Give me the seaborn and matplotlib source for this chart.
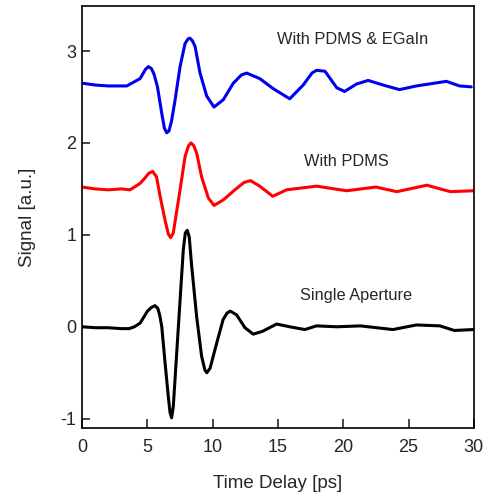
import numpy as np
import pandas as pd
import seaborn as sns
import matplotlib
matplotlib.use("Agg")
import matplotlib.pyplot as plt

# single aperture (black)
t_single = [0, 1, 2, 3, 3.6, 4.0, 4.44, 5.0, 5.3, 5.58, 5.8, 5.95, 6.1, 6.35, 6.6, 6.73,
            6.85, 6.98, 7.24, 7.5, 7.75, 7.9, 8.05, 8.2, 8.39, 8.77, 9.15, 9.4, 9.55, 9.8,
            10.3, 10.8, 11.1, 11.35, 11.83, 12.47, 13.1, 13.8, 14.9, 15.9, 17.06, 17.95,
            19.5, 21.3, 23.8, 25.6, 27.4, 28.5, 29.95]
s_single = [0, -0.01, -0.01, -0.02, -0.02, 0.0, 0.04, 0.17, 0.21, 0.23, 0.2, 0.12, 0.0,
            -0.39, -0.76, -0.93, -0.99, -0.87, -0.29, 0.29, 0.84, 1.02, 1.05, 0.98, 0.66,
            0.11, -0.32, -0.47, -0.50, -0.45, -0.18, 0.08, 0.15, 0.17, 0.13, -0.01, -0.08,
            -0.05, 0.03, 0.0, -0.03, 0.01, 0.0, 0.01, -0.03, 0.02, 0.01, -0.04, -0.03]

# with PDMS (red)
t_pdms = [0, 1, 2, 3, 3.67, 4.44, 4.82, 5.1, 5.4, 5.7, 5.97, 6.35, 6.6, 6.78, 6.98, 7.5,
          7.88, 8.15, 8.34, 8.55, 8.77, 9.15, 9.67, 10.1, 10.81, 11.7, 12.4, 12.9, 13.6,
          14.6, 15.66, 17.95, 20.25, 22.5, 24.1, 26.4, 28.2, 30]
s_pdms = [1.52, 1.5, 1.49, 1.5, 1.49, 1.56, 1.62, 1.67, 1.69, 1.63, 1.42, 1.16, 1.01, 0.97,
          1.02, 1.49, 1.85, 1.97, 2.0, 1.97, 1.89, 1.63, 1.40, 1.32, 1.38, 1.49, 1.57, 1.59,
          1.53, 1.42, 1.49, 1.53, 1.48, 1.52, 1.47, 1.54, 1.47, 1.48]

# with PDMS & EGaIn (blue)
t_egain = [0, 1, 2, 3.42, 4.44, 4.85, 5.07, 5.3, 5.5, 5.77, 6.1, 6.3, 6.48, 6.65, 6.85,
           7.11, 7.5, 7.88, 8.1, 8.26, 8.45, 8.65, 9.03, 9.54, 10.1, 10.81, 11.58, 12.2,
           12.6, 13.6, 14.64, 15.9, 16.93, 17.6, 17.95, 18.6, 19.5, 20.1, 21.0, 21.9, 23.05,
           24.3, 25.6, 27.9, 28.9, 29.8]
s_egain = [2.65, 2.63, 2.62, 2.62, 2.70, 2.80, 2.83, 2.81, 2.75, 2.61, 2.32, 2.16, 2.11,
           2.13, 2.24, 2.46, 2.83, 3.08, 3.13, 3.14, 3.11, 3.05, 2.76, 2.51, 2.39, 2.47,
           2.65, 2.74, 2.76, 2.70, 2.59, 2.48, 2.63, 2.76, 2.79, 2.78, 2.60, 2.56, 2.64,
           2.68, 2.63, 2.58, 2.62, 2.67, 2.62, 2.61]

labels = ["With PDMS & EGaIn", "With PDMS", "Single Aperture"]
label_pos = [(20.7, 3.13), (20.25, 1.80), (21.0, 0.34)]

sns.set_style("ticks")
plt.rcParams["font.family"] = ["Liberation Sans", "DejaVu Sans"]
plt.rcParams["axes.unicode_minus"] = False

fig = plt.figure(figsize=(4.86, 4.97), dpi=100)
ax = fig.add_axes([0.169, 0.139, 0.806, 0.849])

sns.lineplot(x=t_single, y=s_single, color="black", lw=2.2, ax=ax)
sns.lineplot(x=t_pdms, y=s_pdms, color="#ff0000", lw=2.2, ax=ax)
sns.lineplot(x=t_egain, y=s_egain, color="#0000ee", lw=2.2, ax=ax)
for line in ax.lines:
    line.set_solid_joinstyle("round")
    line.set_solid_capstyle("round")

for txt, (x, y) in zip(labels, label_pos):
    ax.text(x, y, txt, ha="center", va="center", fontsize=11.8)

ax.set_xlim(0, 30)
ax.set_ylim(-1.1, 3.49)
ax.set_xticks([0, 5, 10, 15, 20, 25, 30])
ax.set_yticks([-1, 0, 1, 2, 3])
ax.tick_params(axis="x", direction="in", length=6.5, width=1.2, labelsize=13, pad=8)
ax.tick_params(axis="y", direction="in", length=6, width=1.2, labelsize=13, pad=4)
for sp in ax.spines.values():
    sp.set_linewidth(1.2)
    sp.set_color("black")
ax.set_xlabel("Time Delay [ps]", fontsize=13.5, labelpad=14)
ax.set_ylabel("Signal [a.u.]", fontsize=13.5, labelpad=18)

fig.savefig("out.png", dpi=100)
